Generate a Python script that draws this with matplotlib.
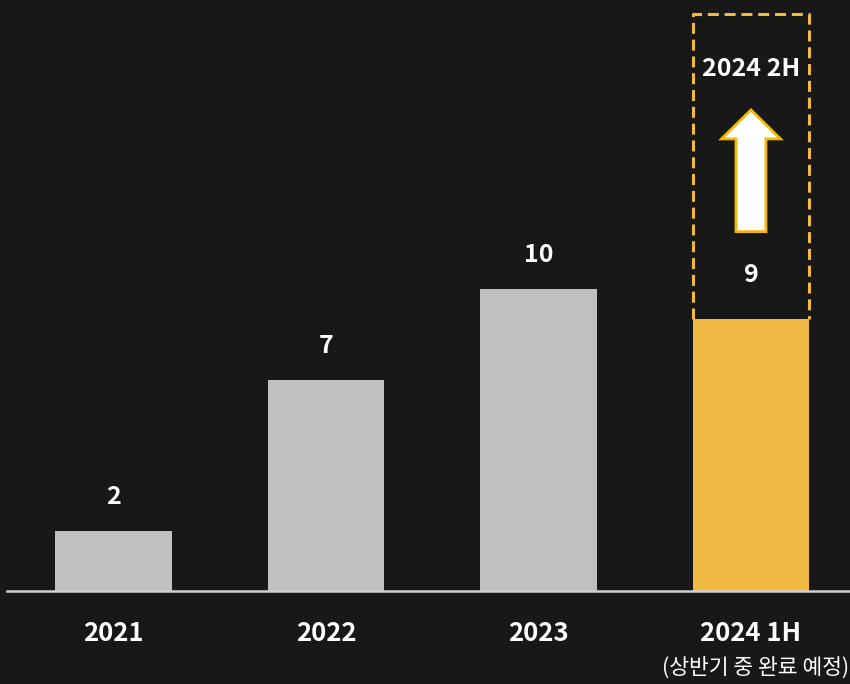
import matplotlib.pyplot as plt
from matplotlib.patches import FancyArrow

plt.rcParams['font.family'] = ['Noto Sans CJK KR', 'DejaVu Sans']

# data
years = ['2021', '2022', '2023', '2024 1H']
values = [2, 7, 10, 9]
bar_colors = ['#c0c0c0', '#c0c0c0', '#c0c0c0', '#f0b942']
target_label = '2024 2H'
target_top = 19.1
sub_note = '(상반기 중 완료 예정)'

bg = '#181818'
fig = plt.figure(figsize=(8.5, 6.84), dpi=100, facecolor=bg)
ax = fig.add_axes([0, 0, 1, 1])
ax.set_facecolor(bg)

x = list(range(len(years)))
ax.bar(x, values, width=0.55, color=bar_colors, zorder=2)

# baseline
ax.plot([-0.50, 3.6], [0, 0], color='#d0d0d0', linewidth=1.8, zorder=3)

# value labels
for i, v in enumerate(values[:-1]):
    ax.text(i, v + 1.12, str(v), ha='center', va='center', color='white',
            fontsize=18, fontweight='bold')
ax.text(3, values[-1] + 1.45, str(values[-1]), ha='center', va='center',
        color='white', fontsize=18, fontweight='bold')

# year labels
for i, y in enumerate(years):
    ax.text(i, -1.4, y, ha='center', va='center', color='white',
            fontsize=18.5, fontweight='bold')
ax.text(3.02, -2.55, sub_note, ha='center', va='center', color='white',
        fontsize=15.5)

# dashed target box (three sides, open at the bar top)
bx0, bx1 = 3 - 0.275, 3 + 0.275
ax.plot([bx0, bx0, bx1, bx1], [values[-1], target_top, target_top, values[-1]],
        color='#f0b942', linewidth=2.2, linestyle=(0, (3.6, 1.9)), zorder=3)
ax.text(3, 17.3, target_label, ha='center', va='center', color='white',
        fontsize=18, fontweight='bold')

arrow = FancyArrow(3, 11.9, 0, 4.03, width=0.141, head_width=0.278,
                   head_length=0.96, length_includes_head=True,
                   facecolor='white', edgecolor='#f5b800', linewidth=2,
                   zorder=4)
ax.add_patch(arrow)

ax.set_xlim(-0.534, 3.466)
ax.set_ylim(-3.08, 19.57)
ax.axis('off')

plt.savefig('out.png', dpi=100, facecolor=bg)
plt.close()
